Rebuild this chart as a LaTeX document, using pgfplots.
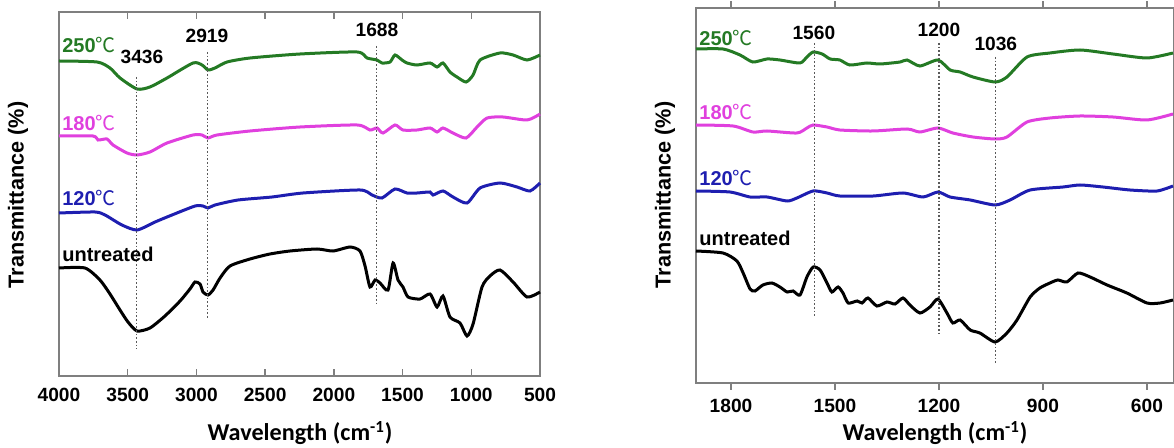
\documentclass[border=0pt]{standalone}
\usepackage{fontspec}
\setmainfont{Liberation Sans}
\newfontfamily\cjk{Noto Sans CJK SC}
\newfontfamily\calib{Carlito}
\usepackage{pgfplots}
\pgfplotsset{compat=1.18}
\definecolor{irgreen}{HTML}{247A24}
\definecolor{irmag}{HTML}{E040DE}
\definecolor{irblue}{HTML}{1E1EB0}
\definecolor{frame}{HTML}{7F7F7F}
\newcommand{\degC}{{\cjk\mdseries ℃}}
\pgfplotsset{
  irax/.style={scale only axis, anchor=south west, x dir=reverse,
    axis line style={draw=frame, line width=1pt},
    ytick=\empty, clip=false,
    /pgf/number format/1000 sep={},
    /pgf/number format/assume math mode=true,
    major tick style={draw=frame, line width=0.8pt}, major tick length=4pt},
  spec/.style={line width=1.8pt, smooth, tension=0.4},
}
\tikzset{
  peak/.style={draw=black!65, line width=0.7pt, dash pattern=on 1pt off 1.2pt},
  tlab/.style={font=\bfseries\fontsize{12}{12}\selectfont, anchor=west, inner sep=0pt},
  nlab/.style={font=\bfseries\fontsize{11.5}{11.5}\selectfont, inner sep=0pt},
}
\begin{document}
\begin{tikzpicture}
\path[use as bounding box] (0,0) rectangle (704.4pt,268.2pt);
% left panel: full range
\begin{axis}[irax, at={(35.4pt,42.6pt)}, width=288.6pt, height=218.4pt,
  xmin=500, xmax=4000, ymin=71, ymax=435,
  xtick={500,1000,...,4000}, tick align=inside,
  xticklabel style={font=\bfseries\fontsize{11.5}{12}\selectfont, yshift=-3.5pt}]
\addplot[spec, black] coordinates {
(4000,179) (3811,179) (3702,167) (3629,153) (3556,137) (3498,125) (3432,116)
(3338,119) (3229,131) (3119,146) (3047,158) (3010,165) (2974,163) (2952,155)
(2916,152) (2879,157) (2828,169) (2756,181) (2610,188) (2465,193) (2319,196)
(2123,198) (2006,196) (1882,200) (1810,196) (1773,181) (1737,160) (1700,167)
(1664,164) (1606,157) (1569,184) (1533,167) (1497,160) (1460,150) (1373,148)
(1300,153) (1249,140) (1206,151) (1155,130) (1082,124) (1031,111) (987,123)
(922,160) (864,171) (791,177) (696,165) (594,150) (500,155)};
\addplot[spec, irblue] coordinates {
(4000,234) (3738,235) (3665,232) (3542,222) (3432,217) (3301,225) (3178,232)
(3010,241) (2952,241) (2916,239) (2865,242) (2697,247) (2450,250) (2224,254)
(1810,257) (1722,252) (1650,249) (1555,258) (1468,254) (1395,254) (1300,255)
(1278,252) (1206,256) (1133,250) (1031,244) (936,259) (791,264) (667,260)
(573,256) (500,264)};
\addplot[spec, irmag] coordinates {
(4000,311) (3753,311) (3716,307) (3651,308) (3607,302) (3505,294) (3432,292)
(3338,295) (3214,304) (3025,312) (2959,312) (2916,309) (2850,312) (2610,316)
(2246,320) (1831,322) (1737,317) (1686,319) (1642,314) (1555,322) (1497,317)
(1395,317) (1300,319) (1249,315) (1206,319) (1133,314) (1038,309) (958,320)
(885,329) (769,330) (594,327) (500,333)};
\addplot[spec, irgreen] coordinates {
(4000,386) (3723,385) (3629,379) (3556,369) (3432,358) (3338,360) (3214,369)
(3025,384) (2959,382) (2916,377) (2865,379) (2777,385) (2610,389) (2246,393)
(1831,395) (1759,389) (1686,387) (1650,384) (1591,385) (1555,392) (1504,387)
(1468,384) (1395,382) (1300,384) (1249,380) (1206,384) (1155,375) (1104,370)
(1038,365) (987,372) (936,387) (791,394) (696,392) (594,387) (500,392)};
\draw[peak] (axis cs:3436,370) -- (axis cs:3436,98);
\draw[peak] (axis cs:2919,395) -- (axis cs:2919,128);
\draw[peak] (axis cs:1688,401) -- (axis cs:1688,141);
\node[nlab] at (axis cs:3396,390) {3436};
\node[nlab] at (axis cs:2923,411) {2919};
\node[nlab] at (axis cs:1686,417) {1688};
\node[tlab, text=irgreen] at (axis cs:3978,402) {250\degC};
\node[tlab, text=irmag] at (axis cs:3978,324) {180\degC};
\node[tlab, text=irblue] at (axis cs:3978,249) {120\degC};
\node[tlab, text=black] at (axis cs:3978,193) {untreated};
\end{axis}
% right panel: fingerprint region
\begin{axis}[irax, at={(417.6pt,38.4pt)}, width=286.8pt, height=225pt,
  xmin=522, xmax=1901, ymin=64, ymax=439,
  xtick={600,900,...,1800}, tick align=outside,
  xticklabel style={font=\bfseries\fontsize{11.5}{12}\selectfont, yshift=-2pt}]
\addplot[spec, black] coordinates {
(1901,196) (1823,194) (1783,186) (1765,174) (1745,158) (1731,156) (1708,162)
(1682,164) (1659,160) (1638,155) (1621,156) (1601,152) (1581,170) (1563,180)
(1543,177) (1523,164) (1509,155) (1491,160) (1477,154) (1462,144) (1436,146)
(1422,144) (1405,149) (1379,141) (1350,145) (1327,143) (1304,149) (1284,142)
(1255,134) (1226,140) (1203,148) (1177,134) (1160,124) (1139,127) (1110,117)
(1082,114) (1038,105) (1004,114) (975,127) (937,150) (909,159) (880,164)
(857,167) (831,165) (799,174) (764,170) (715,162) (658,154) (600,144)
(562,144) (525,147)};
\addplot[spec, irblue] coordinates {
(1901,256) (1803,255) (1745,250) (1696,250) (1638,246) (1610,249) (1563,256)
(1523,254) (1486,251) (1390,251) (1304,254) (1246,250) (1203,255) (1168,250)
(1110,247) (1038,242) (995,247) (937,257) (842,260) (793,262) (727,260)
(649,257) (571,256) (525,261)};
\addplot[spec, irmag] coordinates {
(1901,322) (1794,321) (1737,315) (1696,316) (1610,314) (1581,319) (1563,322)
(1523,320) (1486,317) (1390,316) (1292,318) (1255,315) (1203,319) (1160,314)
(1102,310) (1038,308) (1004,310) (946,325) (880,329) (793,331) (698,330)
(600,327) (525,333)};
\addplot[spec, irgreen] coordinates {
(1901,398) (1823,398) (1774,392) (1737,385) (1696,388) (1659,387) (1601,384)
(1581,390) (1563,395) (1537,393) (1514,388) (1486,387) (1457,382) (1408,384)
(1370,383) (1312,385) (1292,387) (1255,381) (1203,387) (1168,377) (1139,375)
(1102,370) (1038,365) (1004,370) (946,390) (880,394) (793,397) (698,393)
(600,389) (525,394)};
\draw[peak] (axis cs:1560,404) -- (axis cs:1560,130);
\draw[peak] (axis cs:1200,404) -- (axis cs:1200,114);
\draw[peak] (axis cs:1036,390) -- (axis cs:1036,84);
\node[nlab] at (axis cs:1561,414) {1560};
\node[nlab] at (axis cs:1200,417) {1200};
\node[nlab] at (axis cs:1036,403) {1036};
\node[tlab, text=irgreen] at (axis cs:1892,409) {250\degC};
\node[tlab, text=irmag] at (axis cs:1892,335) {180\degC};
\node[tlab, text=irblue] at (axis cs:1892,269) {120\degC};
\node[tlab, text=black] at (axis cs:1892,209) {untreated};
\end{axis}
\node[rotate=90, font=\bfseries\fontsize{13}{13}\selectfont] at (10.8pt,151.2pt) {Transmittance (\%)};
\node[rotate=90, font=\bfseries\fontsize{13}{13}\selectfont] at (399pt,151.2pt) {Transmittance (\%)};
\node[font=\calib\bfseries\fontsize{14.5}{14.5}\selectfont] at (180pt,8.4pt) {Wavelength (cm\textsuperscript{-1})};
\node[font=\calib\bfseries\fontsize{14.5}{14.5}\selectfont] at (561pt,8.4pt) {Wavelength (cm\textsuperscript{-1})};
\end{tikzpicture}
\end{document}
